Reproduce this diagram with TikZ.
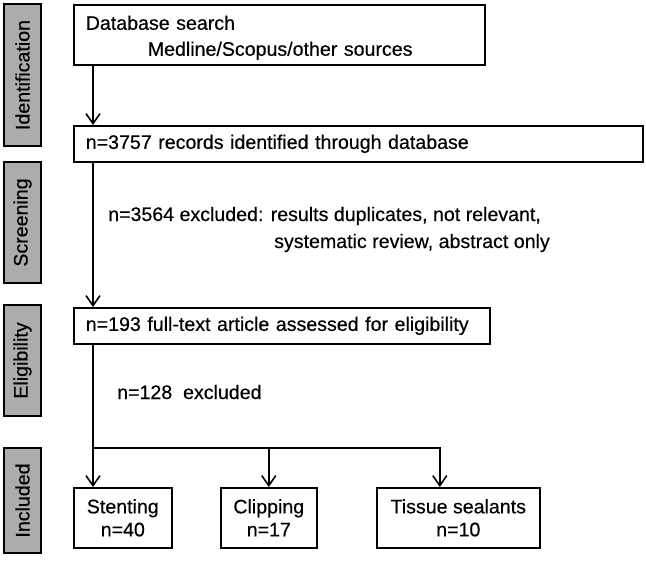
\documentclass[tikz,border=0pt]{standalone}
\usepackage{fontspec}
\setmainfont[FakeBold=0.4]{Liberation Sans}
\usetikzlibrary{arrows.meta,positioning}
\definecolor{phasegray}{RGB}{172,172,172}

\begin{document}
\begin{tikzpicture}[
    x=1pt, y=-1pt,
    font=\fontsize{19.6}{26}\selectfont,
    phase/.style={rectangle, draw, fill=phasegray, line width=1.6pt, rotate=90, minimum height=37pt, inner sep=0pt},
    stage/.style={rectangle, draw, line width=1.6pt, anchor=north west, align=left, inner xsep=12pt, inner ysep=2pt, minimum height=36pt},
    result/.style={rectangle, draw, line width=1.6pt, anchor=north west, align=center, minimum height=60pt, inner sep=2pt},
    note/.style={inner sep=0pt},
    arrow/.style={line width=1.6pt, -{Straight Barb[length=10pt, width=14pt]}},
    link/.style={line width=1.6pt}
]
\useasboundingbox (0,0) rectangle (646,566);

% Left column - phase labels
\node[phase, minimum width=142pt] (ident) at (22.5,75) {Identification};
\node[phase, minimum width=121pt] (screen) at (22.5,222.5) {Screening};
\node[phase, minimum width=111pt] (elig) at (22.5,360.5) {Eligibility};
\node[phase, minimum width=105pt] (incl) at (22.5,500.5) {Included};

% Main column - search stages
\node[stage, text width=387pt, minimum height=60pt] (search) at (73,4) {\rule{0pt}{20pt}Database search\\\hspace*{62pt}Medline/Scopus/other sources};
\node[stage, text width=545pt] (records) at (73,125) {n=3757 records identified through database};
\node[stage, text width=392pt] (fulltext) at (73,307) {n=193 full-text article assessed for eligibility};

% Exclusion notes
\node[note, anchor=base west] (screenout) at (108,221) {n=3564 excluded: results duplicates, not relevant,};
\node[note, anchor=base east] (screenrest) at (550,248) {systematic review, abstract only};
\node[note, anchor=base west] (eligout) at (117,399) {n=128\ \ excluded};

% Bottom row - included studies
\node[result, minimum width=98pt] (stenting) at (73,487) {Stenting\\[-3pt]n=40};
\node[result, minimum width=96pt] (clipping) at (220,487) {Clipping\\[-3pt]n=17};
\node[result, minimum width=163pt] (sealants) at (376,487) {Tissue sealants\\[-3pt]n=10};

% Arrows
\coordinate (trunk) at (93,0);
\coordinate (split) at (93,448);
\draw[arrow] (search.south -| trunk) -- (records.north -| trunk);
\draw[arrow] (records.south -| trunk) -- (fulltext.north -| trunk);
\draw[arrow] (fulltext.south -| trunk) -- (stenting.north -| trunk);
\draw[arrow] (split -| clipping.north) -- (clipping.north);
\draw[arrow] (split) -| ([xshift=-18.5pt]sealants.north);

\end{tikzpicture}
\end{document}
